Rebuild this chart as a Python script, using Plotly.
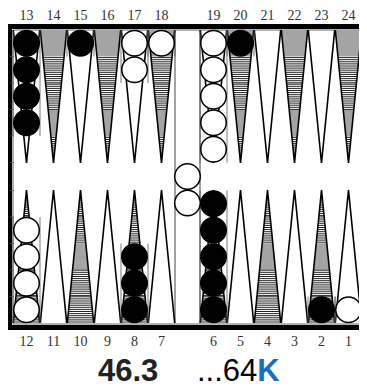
import plotly.graph_objs as go

W, H = 367, 388
PAD = 8          # the page body margin pushes the plot by this much

# point numbers, left to right, along the top and the bottom of the board
top_points = [13, 14, 15, 16, 17, 18, 19, 20, 21, 22, 23, 24]
bottom_points = [12, 11, 10, 9, 8, 7, 6, 5, 4, 3, 2, 1]

# checkers on each point
black_points = [13, 15, 20, 8, 6, 2]
black_counts = [4, 1, 1, 3, 5, 1]
white_points = [17, 18, 19, 12, 1]
white_counts = [2, 1, 5, 4, 1]
white_on_bar = 2

# points drawn as grey ruled triangles
hatched_points = [14, 16, 18, 20, 22, 24, 12, 10, 8, 6, 4, 2]

# bands from base to tip: g = solid grey, l = ruled lines
top_bands = ['g', 'l', 'l', 'g', 'l']
bottom_bands = ['l', 'l', 'g', 'l', 'l']

pip_text = '46.3'
score_text = '...64'
score_suffix = 'K'

# board geometry in pixels
LEFT, BAR_L, BAR_R, RIGHT = 13, 175, 200, 362
TOP, BOT = 30, 323
PW = 27          # point width
HW = 13.2        # triangle half width at base
TRI = 133        # triangle length
STEP = 26.5      # checker spacing
CK = 25.5        # checker marker size


def point_x(p):
    row = top_points if p >= 13 else bottom_points
    i = row.index(p)
    base = LEFT if i < 6 else BAR_R
    return base + PW * (i % 6) + PW / 2


def point_base(p):
    return (TOP, 1) if p >= 13 else (BOT, -1)


def stack_y(p, k):
    y0, s = point_base(p)
    return y0 + s * (STEP / 2 + STEP * k)


fig = go.Figure()

# triangle bands
gx, gy, lx, ly = [], [], [], []
u = TRI / 5
for p in hatched_points:
    x = point_x(p)
    y0, s = point_base(p)
    bands = top_bands if p >= 13 else bottom_bands
    for k, b in enumerate(bands):
        d0, d1 = k * u, (k + 1) * u
        w0 = HW * (1 - d0 / TRI)
        w1 = HW * (1 - d1 / TRI)
        if b == 'g':
            gx += [x - w0, x + w0, x + w1, x - w1, x - w0, None]
            gy += [y0 + s * d0, y0 + s * d0, y0 + s * d1, y0 + s * d1, y0 + s * d0, None]
        else:
            d = d0 + 1
            while d < d1:
                w = HW * (1 - d / TRI)
                lx += [x - w, x + w, None]
                ly += [y0 + s * d, y0 + s * d, None]
                d += 2.1

fig.add_trace(go.Scatter(x=gx, y=gy, mode='lines', fill='toself', fillcolor='#a4a4a4',
                         line=dict(width=0), hoverinfo='skip'))
fig.add_trace(go.Scatter(x=lx, y=ly, mode='lines', line=dict(color='#222', width=1),
                         hoverinfo='skip'))

# triangle outlines
tx, ty = [], []
for p in top_points + bottom_points:
    x = point_x(p)
    y0, s = point_base(p)
    tx += [x - HW, x, x + HW, None]
    ty += [y0, y0 + s * TRI, y0, None]
fig.add_trace(go.Scatter(x=tx, y=ty, mode='lines', line=dict(color='black', width=1.6),
                         hoverinfo='skip'))

# thin side lines along the occupied stacks
sx, sy = [], []
for pts, cnts in [(black_points, black_counts), (white_points, white_counts)]:
    for p, n in zip(pts, cnts):
        x = point_x(p)
        y0, s = point_base(p)
        for e in (x - PW / 2, x + PW / 2):
            sx += [e, e, None]
            sy += [y0, y0 + s * STEP * n, None]
# little notches on the side rails
for k in range(1, 6):
    for y in (TOP + STEP * k, BOT - STEP * k):
        sx += [10, 14, None, 361, 365, None]
        sy += [y, y, None, y, y, None]
fig.add_trace(go.Scatter(x=sx, y=sy, mode='lines', line=dict(color='#555', width=0.8),
                         hoverinfo='skip'))

# checkers
bx, by, wx, wy = [], [], [], []
for p, n in zip(black_points, black_counts):
    for k in range(n):
        bx.append(point_x(p))
        by.append(stack_y(p, k))
for p, n in zip(white_points, white_counts):
    for k in range(n):
        wx.append(point_x(p))
        wy.append(stack_y(p, k))
mid = (TOP + BOT) / 2
for k in range(white_on_bar):
    wx.append((BAR_L + BAR_R) / 2)
    wy.append(mid + STEP * k)

fig.add_trace(go.Scatter(x=bx, y=by, mode='markers', hoverinfo='skip',
                         marker=dict(size=CK, color='black', line=dict(color='black', width=1.5))))
fig.add_trace(go.Scatter(x=wx, y=wy, mode='markers', hoverinfo='skip',
                         marker=dict(size=CK, color='white', line=dict(color='black', width=1.5))))

# point numbers
fig.add_trace(go.Scatter(
    x=[point_x(p) for p in top_points] + [point_x(p) for p in bottom_points],
    y=[16] * 12 + [342] * 12,
    text=[str(p) for p in top_points + bottom_points],
    mode='text', hoverinfo='skip', cliponaxis=False,
    textfont=dict(family='Liberation Serif', size=14, color='#333')))

# board frame
shapes = [
    dict(type='rect', x0=7, y0=24, x1=367, y1=330, fillcolor='black', line=dict(width=0), layer='below'),
    dict(type='rect', x0=12, y0=29, x1=363, y1=325, fillcolor='white', line=dict(width=0), layer='below'),
    dict(type='rect', x0=13, y0=30, x1=362, y1=324, fillcolor='rgba(0,0,0,0)',
         line=dict(color='#666', width=1), layer='below'),
    dict(type='line', x0=BAR_L, y0=TOP, x1=BAR_L, y1=BOT, line=dict(color='#444', width=1), layer='below'),
    dict(type='line', x0=BAR_R, y0=TOP, x1=BAR_R, y1=BOT, line=dict(color='#444', width=1), layer='below'),
]

annotations = [
    dict(x=127.5, y=370, text='<b>' + pip_text + '</b>', showarrow=False,
         xanchor='center', yanchor='middle',
         font=dict(family='Liberation Sans', size=31, color='#222')),
    dict(x=195, y=370, showarrow=False, xanchor='left', yanchor='middle',
         text=score_text + "<b><span style='color:#1471c2'>" + score_suffix + '</span></b>',
         font=dict(family='Liberation Sans', size=31, color='black')),
]

fig.update_layout(
    width=W - PAD, height=H - PAD,
    margin=dict(l=0, r=0, t=0, b=0),
    paper_bgcolor='white', plot_bgcolor='white',
    showlegend=False,
    xaxis=dict(range=[PAD, W], visible=False, fixedrange=True),
    yaxis=dict(range=[H, PAD], visible=False, fixedrange=True),
    shapes=shapes,
    annotations=annotations,
)

fig.write_html("out.html")
